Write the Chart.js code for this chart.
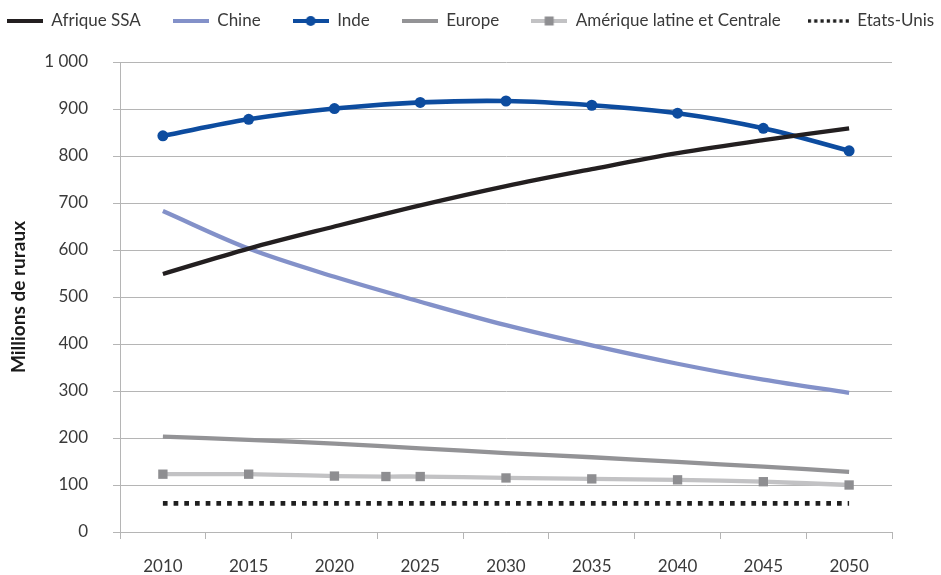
<!DOCTYPE html>
<html>
<head>
<meta charset="utf-8">
<script src="https://cdn.jsdelivr.net/npm/chart.js@4.4.0/dist/chart.umd.min.js"></script>
<style>
  html, body { margin: 0; padding: 0; background: #fff; }
  #wrap { width: 941px; height: 575px; position: relative; }
</style>
</head>
<body>
<div id="wrap"><canvas id="c"></canvas></div>
<script>
// Rural population (millions), 2010-2050
const years = [2010, 2015, 2020, 2025, 2030, 2035, 2040, 2045, 2050];
const afriqueSSA = [549, 603, 650, 695, 736, 772, 806, 834, 859];
const chine = [683, 603, 543, 490, 440, 397, 358, 324, 296];
const inde = [843, 878, 901, 914, 917, 908, 891, 859, 811];
const europe = [203, 196, 188, 178, 168, 159, 149, 139, 128];
const ameriqueYears = [2010, 2015, 2020, 2023, 2025, 2030, 2035, 2040, 2045, 2050];
const ameriqueLatine = [123, 123, 119, 118, 118, 115, 113, 111, 107, 100];
const etatsUnis = [61, 61, 61, 61, 61, 61, 61, 61, 61];

const yTickValues = [0, 100, 200, 300, 400, 500, 600, 700, 800, 900, 1000];
const yTickLabels = ['0', '100', '200', '300', '400', '500', '600', '700', '800', '900', '1 000'];

const COLORS = {
  ssa: '#231f20',
  chine: '#8391c9',
  inde: '#0d4c9f',
  europe: '#939396',
  amLine: '#c2c2c4',
  amMark: '#8e8e91',
  us: '#1f1f1f',
  grid: '#b5b5b5',
  text: '#3a3a3a'
};

const FONT = 'Lato, "Open Sans", "Noto Sans", sans-serif';

// Legend band: fixed height, one wide row raised toward the top
const LEGEND_HEIGHT = 62;
const LEGEND_PAD = 32;
const LEGEND_ROW_CENTER = 21;
const LEGEND_SLACK = 200;

function pts(xs, ys) {
  return xs.map((x, i) => ({ x: x, y: ys[i] }));
}

// Small canvases used as legend symbols
function icon(w, h, draw) {
  const c = document.createElement('canvas');
  c.width = w; c.height = h;
  draw(c.getContext('2d'), w, h);
  return c;
}
function plainLine(color) {
  return icon(36, 12, (g, w, h) => {
    g.fillStyle = color;
    g.fillRect(0, h / 2 - 2, w, 4);
  });
}
const legendIcons = [
  plainLine(COLORS.ssa),
  plainLine(COLORS.chine),
  icon(36, 12, (g, w, h) => {
    g.fillStyle = COLORS.inde;
    g.fillRect(0, h / 2 - 2, w, 4);
    g.beginPath();
    g.arc(w / 2, h / 2, 5, 0, Math.PI * 2);
    g.fill();
  }),
  plainLine(COLORS.europe),
  icon(36, 12, (g, w, h) => {
    g.fillStyle = COLORS.amLine;
    g.fillRect(0, h / 2 - 2, w, 4);
    g.fillStyle = COLORS.amMark;
    g.fillRect(w / 2 - 4.5, h / 2 - 4.5, 9, 9);
  }),
  icon(46, 12, (g, w, h) => {
    g.fillStyle = COLORS.us;
    for (let x = 0; x + 3 <= w; x += 6.3) {
      g.fillRect(x, h / 2 - 1.7, 3.2, 3.4);
    }
  })
];

// Keeps the legend on a single row with generous spacing and a fixed band height
const legendBand = {
  id: 'legendBand',
  beforeLayout(chart) {
    const lg = chart.legend;
    if (!lg || lg._banded) return;
    lg._banded = true;
    const fit = lg.fit;
    lg.fit = function () {
      const mw = this.maxWidth;
      this.maxWidth = mw + LEGEND_SLACK;
      fit.call(this);
      this.maxWidth = mw;
      this.width = Math.min(this.width, mw);
      this.height = LEGEND_HEIGHT;
    };
    const draw = lg.draw;
    lg.draw = function () {
      const shift = LEGEND_PAD + 8.5 - LEGEND_ROW_CENTER;
      const l = this.left, r = this.right;
      this.left = l - LEGEND_SLACK;
      this.right = r + LEGEND_SLACK;
      this.ctx.save();
      this.ctx.translate(0, -shift);
      draw.apply(this, arguments);
      this.ctx.restore();
      this.left = l;
      this.right = r;
    };
  }
};

const common = {
  fill: false,
  tension: 0.35,
  borderWidth: 4.3,
  pointRadius: 0,
  pointHoverRadius: 0
};

const data = {
  datasets: [
    Object.assign({}, common, {
      label: 'Afrique SSA',
      data: pts(years, afriqueSSA),
      borderColor: COLORS.ssa
    }),
    Object.assign({}, common, {
      label: 'Chine',
      data: pts(years, chine),
      borderColor: COLORS.chine
    }),
    Object.assign({}, common, {
      label: 'Inde',
      data: pts(years, inde),
      borderColor: COLORS.inde,
      borderWidth: 4.6,
      pointRadius: 5.5,
      pointStyle: 'circle',
      pointBackgroundColor: COLORS.inde,
      pointBorderColor: COLORS.inde,
      pointBorderWidth: 0
    }),
    Object.assign({}, common, {
      label: 'Europe',
      data: pts(years, europe),
      borderColor: COLORS.europe
    }),
    Object.assign({}, common, {
      label: 'Amérique latine et Centrale',
      data: pts(ameriqueYears, ameriqueLatine),
      borderColor: COLORS.amLine,
      pointRadius: 6.6,
      pointStyle: 'rect',
      pointBackgroundColor: COLORS.amMark,
      pointBorderColor: COLORS.amMark,
      pointBorderWidth: 0
    }),
    Object.assign({}, common, {
      label: 'Etats-Unis',
      data: pts(years, etatsUnis),
      borderColor: COLORS.us,
      borderWidth: 4.7,
      borderDash: [4.7, 6],
      borderCapStyle: 'butt',
      tension: 0
    })
  ]
};

new Chart(document.getElementById('c'), {
  type: 'line',
  data: data,
  plugins: [legendBand],
  options: {
    responsive: true,
    maintainAspectRatio: false,
    animation: false,
    layout: { padding: 0 },
    plugins: {
      tooltip: { enabled: false },
      legend: {
        display: true,
        position: 'top',
        align: 'center',
        labels: {
          usePointStyle: true,
          pointStyleWidth: 36,
          padding: LEGEND_PAD,
          color: COLORS.text,
          font: { family: FONT, size: 17 },
          generateLabels: (chart) => chart.data.datasets.map((ds, i) => ({
            text: ds.label,
            pointStyle: legendIcons[i],
            datasetIndex: i,
            hidden: false,
            fontColor: COLORS.text,
            lineWidth: 0,
            strokeStyle: 'rgba(0,0,0,0)',
            fillStyle: 'rgba(0,0,0,0)'
          }))
        }
      }
    },
    scales: {
      x: {
        type: 'linear',
        min: 2007.5,
        max: 2052.5,
        afterBuildTicks: (s) => { s.ticks = years.map(v => ({ value: v })); },
        afterFit: (s) => { s.height = 43; s.paddingRight = 49; },
        ticks: {
          autoSkip: false,
          maxRotation: 0,
          padding: 17,
          color: COLORS.text,
          font: { family: FONT, size: 17 },
          callback: (v) => String(v)
        },
        grid: {
          offset: true,
          drawOnChartArea: false,
          drawTicks: true,
          tickLength: 7,
          color: COLORS.grid,
          lineWidth: 1
        },
        border: { display: true, color: COLORS.grid, width: 1 }
      },
      y: {
        min: 0,
        max: 1000,
        afterBuildTicks: (s) => { s.ticks = yTickValues.map(v => ({ value: v })); },
        afterFit: (s) => { s.width = 120; },
        ticks: {
          padding: 25,
          color: COLORS.text,
          font: { family: FONT, size: 17 },
          callback: (v) => yTickLabels[yTickValues.indexOf(v)]
        },
        grid: {
          color: COLORS.grid,
          lineWidth: 1,
          drawTicks: true,
          tickLength: 7
        },
        border: { display: true, color: COLORS.grid, width: 1 },
        title: {
          display: true,
          text: 'Millions de ruraux',
          color: '#1a1a1a',
          font: { family: FONT, size: 19, weight: 'bold' },
          padding: { top: 7, bottom: 0 }
        }
      }
    }
  }
});
</script>
</body>
</html>
